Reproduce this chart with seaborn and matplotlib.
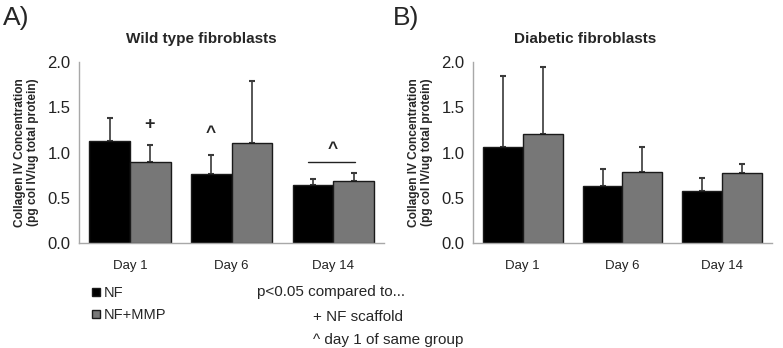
import matplotlib
matplotlib.use("Agg")
import matplotlib.pyplot as plt
import seaborn as sns
import pandas as pd
import numpy as np
from matplotlib.patches import Patch

days = ["Day 1", "Day 6", "Day 14"]
groups = ["NF", "NF+MMP"]
wt_nf = [1.13, 0.76, 0.645]
wt_mmp = [0.895, 1.105, 0.68]
wt_nf_err = [0.25, 0.21, 0.065]
wt_mmp_err = [0.19, 0.69, 0.09]
db_nf = [1.065, 0.625, 0.575]
db_mmp = [1.21, 0.78, 0.77]
db_nf_err = [0.78, 0.19, 0.14]
db_mmp_err = [0.74, 0.28, 0.10]
titles = ["Wild type fibroblasts", "Diabetic fibroblasts"]
title_x = [0.40, 0.375]
panel_labels = ["A)", "B)"]
panel_x = [0.004, 0.502]
ylabel = "Collagen IV Concentration\n(pg col IV/ug total protein)"
yticks = [0.0, 0.5, 1.0, 1.5, 2.0]

sns.set_style("white")
plt.rcParams['font.family'] = ['Liberation Sans', 'DejaVu Sans']

palette = {"NF": "#000000", "NF+MMP": "#777777"}
spine_col = "#a8a8a8"

fig = plt.figure(figsize=(7.83, 3.48), dpi=100)
axA = fig.add_axes([0.101, 0.3017, 0.3895, 0.52])
axB = fig.add_axes([0.604, 0.3017, 0.382, 0.52])


def make_df(nf, mmp):
    rows = []
    for d, v in zip(days, nf):
        rows.append({"day": d, "group": "NF", "val": v})
    for d, v in zip(days, mmp):
        rows.append({"day": d, "group": "NF+MMP", "val": v})
    return pd.DataFrame(rows)


datasets = [(wt_nf, wt_mmp, wt_nf_err, wt_mmp_err), (db_nf, db_mmp, db_nf_err, db_mmp_err)]
for ax, (nf, mmp, nfe, mmpe), title, tx, pl, px in zip([axA, axB], datasets, titles, title_x,
                                                      panel_labels, panel_x):
    df = make_df(nf, mmp)
    sns.barplot(data=df, x="day", y="val", hue="group", order=days, hue_order=groups,
                palette=palette, errorbar=None, width=0.8, edgecolor="#1a1a1a",
                linewidth=1.0, ax=ax, legend=False)
    patches = [p for p in ax.patches if p.get_height() > 0]
    errs = list(nfe) + list(mmpe)
    for p, e in zip(patches, errs):
        xc = p.get_x() + p.get_width() / 2
        ax.errorbar(xc, p.get_height(), yerr=[[0], [e]], fmt="none",
                    ecolor="#3a3a3a", elinewidth=1.2, capsize=2.5, capthick=1.5, zorder=1)
        p.set_zorder(2)
    ax.set_ylim(0, 2.0)
    ax.set_xlim(-0.5, 2.5)
    ax.set_yticks(yticks)
    ax.set_yticklabels([f"{t:.1f}" for t in yticks], fontsize=12, color="#222222")
    ax.set_xticks([-0.5, 0.5, 1.5, 2.5])
    ax.set_xticklabels([])
    ax.set_xticks([0, 1, 2], minor=True)
    ax.set_xticklabels(days, minor=True, fontsize=9.5, color="#222222")
    ax.tick_params(axis="x", which="minor", length=0, pad=12)
    ax.tick_params(axis="x", which="major", direction="out", length=5, color=spine_col, width=1)
    ax.tick_params(axis="y", direction="out", length=4, color=spine_col, width=1, pad=2)
    for s in ["top", "right"]:
        ax.spines[s].set_visible(False)
    for s in ["left", "bottom"]:
        ax.spines[s].set_color(spine_col)
        ax.spines[s].set_linewidth(1.0)
    ax.set_xlabel("")
    ax.set_ylabel(ylabel, fontsize=8.6, fontweight="bold", labelpad=6, linespacing=1.15)
    ax.set_title(title, fontsize=11, fontweight="bold", pad=14, x=tx)
    fig.text(px, 0.948, pl, fontsize=19, ha="left", va="center")

axA.text(0.197, 1.31, "+", fontsize=13, fontweight="bold", ha="center", va="center")
axA.text(0.79, 1.22, "^", fontsize=12.5, fontweight="bold", ha="center", va="center")
axA.text(1.99, 1.04, "^", fontsize=12.5, fontweight="bold", ha="center", va="center")
axA.plot([1.75, 2.21], [0.9, 0.9], color="#222222", lw=1.0)

handles = [Patch(facecolor=palette[g], edgecolor="#1a1a1a", linewidth=1.0, label=g) for g in groups]
fig.legend(handles=handles, loc="upper left", bbox_to_anchor=(0.117, 0.178), frameon=False,
           fontsize=10.5, handlelength=0.55, handleheight=0.55, handletextpad=0.3,
           labelspacing=0.55, borderaxespad=0, borderpad=0)

fig.text(0.328, 0.161, "p<0.05 compared to...", fontsize=11, ha="left", va="center")
fig.text(0.400, 0.089, "+ NF scaffold", fontsize=11, ha="left", va="center")
fig.text(0.400, 0.023, "^ day 1 of same group", fontsize=11, ha="left", va="center")

fig.savefig("out.png", dpi=100)
